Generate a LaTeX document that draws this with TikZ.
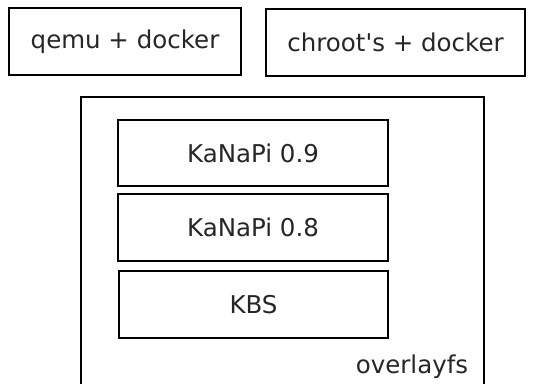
\documentclass[tikz,border=0pt]{standalone}
\usepackage{fontspec}
\setmainfont{DejaVu Sans}
\begin{document}
\begin{tikzpicture}[x=1pt,y=-1pt,
  box/.style={draw=black,line width=2.8pt,rectangle,inner sep=0pt,font=\fontsize{24.5}{28}\selectfont,text=black!85},
  lbl/.style={font=\fontsize{24.5}{28}\selectfont,text=black!85,inner sep=0pt}]
\useasboundingbox (0,0) rectangle (534,383);
\clip (0,0) rectangle (534,383);
\node[box,minimum width=232pt,minimum height=67pt] (qemu) at (125,41.5) {qemu + docker};
\node[box,minimum width=259pt,minimum height=67pt] (chroot) at (395.5,42.5) {chroot\textquotesingle s + docker};
\node[box,minimum width=403pt,minimum height=293pt] (overlay) at (282.5,243.5) {};
\node[box,minimum width=270pt,minimum height=66pt] (k09) at (253,153) {KaNaPi 0.9};
\node[box,minimum width=270pt,minimum height=67pt] (k08) at (253,227.5) {KaNaPi 0.8};
\node[box,minimum width=269pt,minimum height=67pt] (kbs) at (253.5,304.5) {KBS};
\node[lbl] (ofs) at (412,367) {overlayfs};
\end{tikzpicture}
\end{document}
